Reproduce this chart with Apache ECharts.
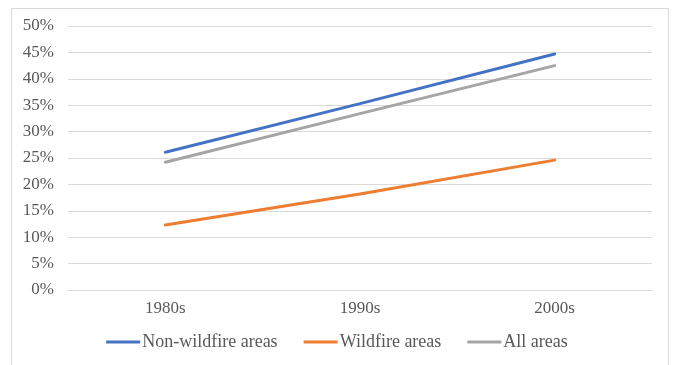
<!DOCTYPE html>
<html>
<head>
<meta charset="utf-8">
<script src="https://cdn.jsdelivr.net/npm/echarts@6/dist/echarts.min.js"></script>
<style>
  html, body { margin: 0; padding: 0; background: #fff; }
  #chart { width: 674px; height: 365px; }
</style>
</head>
<body>
<div id="chart"></div>
<script>
// Decades on the horizontal axis
const decades = ['1980s', '1990s', '2000s'];
// Shares (%) per area type
const nonWildfire = [26.1, 35.3, 44.7];
const wildfire = [12.3, 18.2, 24.6];
const allAreas = [24.2, 33.4, 42.5];
// Y-axis range and step (%)
const yMin = 0, yMax = 50, yStep = 5;

const font = '"Liberation Serif", "Times New Roman", serif';
const textColor = '#595959';
const fs = 17;

const chart = echarts.init(document.getElementById('chart'));

function lineSeries(name, data, color) {
  return {
    name: name,
    type: 'line',
    data: data,
    showSymbol: false,
    symbol: 'none',
    lineStyle: { width: 3, color: color, cap: 'round' },
    itemStyle: { color: color },
    emphasis: { disabled: true }
  };
}

chart.setOption({
  animation: false,
  backgroundColor: '#fff',
  textStyle: { fontFamily: font },
  graphic: [{
    type: 'rect',
    shape: { x: 11.5, y: 8.5, width: 657, height: 370 },
    style: { fill: 'none', stroke: '#d9d9d9', lineWidth: 1 },
    silent: true
  }],
  grid: { left: 68, right: 22, top: 26, bottom: 75, containLabel: false },
  legend: {
    bottom: 9,
    left: 'center',
    icon: 'rect',
    itemWidth: 34,
    itemHeight: 3,
    itemGap: 26,
    textStyle: { fontFamily: font, fontSize: 18, color: textColor, padding: [0, 0, 0, -3] },
    data: ['Non-wildfire areas', 'Wildfire areas', 'All areas']
  },
  xAxis: {
    type: 'category',
    data: decades,
    boundaryGap: true,
    axisLine: { show: true, lineStyle: { color: '#d9d9d9', width: 1 } },
    axisTick: { show: false },
    axisLabel: { fontFamily: font, fontSize: fs, color: textColor, margin: 10 }
  },
  yAxis: {
    type: 'value',
    min: yMin,
    max: yMax,
    interval: yStep,
    axisLine: { show: false },
    axisTick: { show: false },
    splitLine: { lineStyle: { color: '#d9d9d9', width: 1 } },
    axisLabel: {
      fontFamily: font, fontSize: fs, color: textColor, margin: 14,
      formatter: v => v + '%'
    }
  },
  series: [
    lineSeries('Non-wildfire areas', nonWildfire, '#4472C4'),
    lineSeries('Wildfire areas', wildfire, '#ED7D31'),
    lineSeries('All areas', allAreas, '#A5A5A5')
  ]
});
</script>
</body>
</html>
